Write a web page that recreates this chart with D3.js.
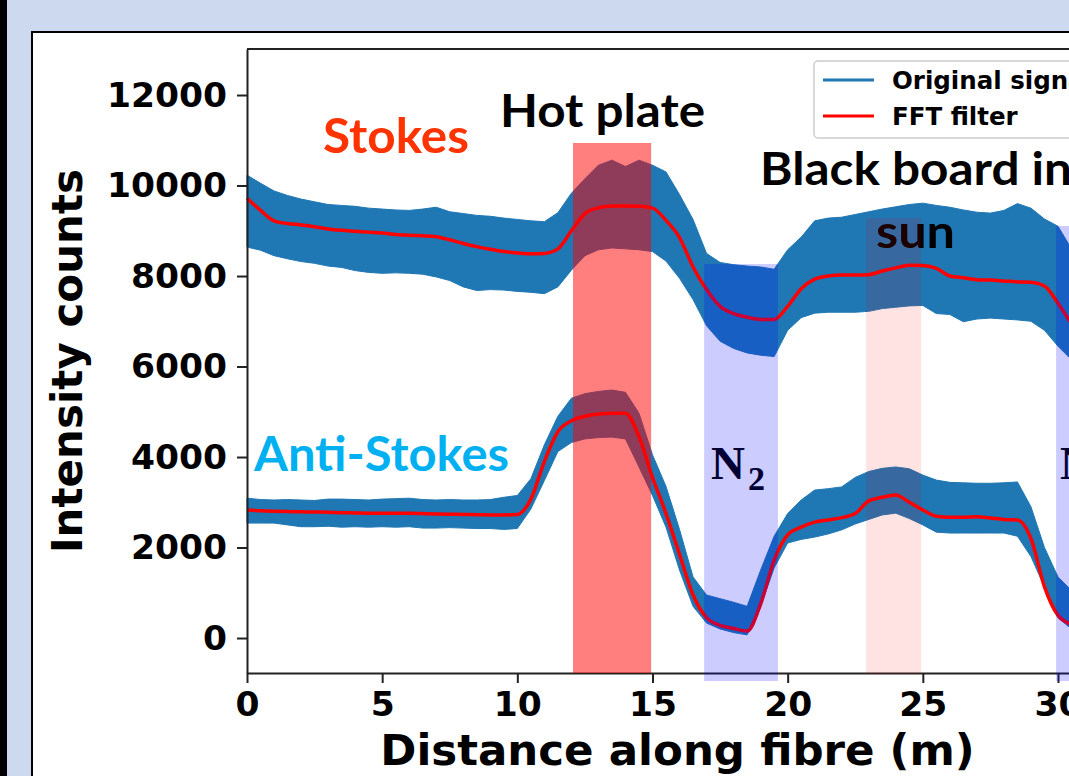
<!DOCTYPE html>
<html>
<head>
<meta charset="utf-8">
<script src="https://cdn.jsdelivr.net/npm/d3@7"></script>
<style>
  html, body { margin: 0; padding: 0; background: #ccd9ee; }
  svg { display: block; }
</style>
</head>
<body>
<div class="artboard"></div>
<script>
// distance along fibre (m), read every 0.5 m
var distance = [0,0.5,1,1.5,2,2.5,3,3.5,4,4.5,5,5.5,6,6.5,7,7.5,8,8.5,9,9.5,10,10.5,11,11.5,12,12.5,13,13.5,14,14.5,15,15.5,16,16.5,17,17.5,18,18.5,19,19.5,20,20.5,21,21.5,22,22.5,23,23.5,24,24.5,25,25.5,26,26.5,27,27.5,28,28.5,29,29.5,30,30.5,31];

// stokes: upper / lower edge of the raw signal band, and the FFT filtered curve
var stokesHigh = [
  10230,10050,9880,9780,9700,9640,9580,9560,9540,9500,
  9480,9460,9450,9480,9520,9420,9380,9340,9320,9280,
  9250,9220,9200,9400,9830,10150,10450,10560,10420,10560,
  10450,10300,9800,9250,8500,8300,8250,8220,8200,8150,
  8580,8860,9220,9280,9300,9360,9420,9480,9530,9580,
  9610,9560,9520,9460,9410,9390,9450,9600,9500,9260,
  9100,8600,8200];
var stokesLow = [
  8640,8570,8450,8380,8320,8280,8220,8190,8120,8080,
  8060,8070,8060,8040,7980,7900,7760,7680,7700,7690,
  7660,7640,7610,7760,8130,8450,8580,8620,8600,8580,
  8540,8330,7950,7480,6900,6560,6400,6300,6250,6220,
  6800,7080,7180,7200,7200,7200,7220,7280,7310,7340,
  7350,7170,7150,6990,7050,7070,7050,7030,7000,6800,
  6450,6150,5900];
var stokesFft = [
  9720,9450,9220,9160,9130,9090,9040,9010,8990,8970,
  8950,8920,8900,8890,8870,8800,8720,8650,8590,8540,
  8510,8490,8500,8600,9000,9380,9510,9550,9550,9540,
  9500,9230,8850,8200,7700,7330,7170,7090,7040,7040,
  7330,7720,7930,8000,8020,8020,8030,8110,8180,8240,
  8230,8170,8000,7960,7920,7910,7890,7870,7860,7780,
  7400,6950,6600];

// anti-stokes
var antiHigh = [
  3090,3060,3050,3060,3050,3040,3070,3070,3060,3050,
  3070,3080,3090,3060,3050,3060,3050,3050,3060,3110,
  3150,3520,4270,4900,5300,5400,5450,5480,5430,4970,
  4050,3350,2400,1350,950,870,790,700,1500,2250,
  2750,3050,3270,3300,3340,3550,3680,3750,3780,3740,
  3600,3490,3440,3430,3420,3420,3430,3450,2900,2000,
  1350,1050,900];
var antiLow = [
  2540,2540,2540,2500,2460,2460,2470,2450,2460,2450,
  2460,2450,2460,2430,2430,2440,2430,2420,2420,2400,
  2420,2850,3480,4120,4320,4400,4430,4440,4400,3780,
  3150,2450,1500,700,330,200,120,70,700,1550,
  2100,2180,2230,2300,2390,2520,2620,2720,2760,2640,
  2500,2340,2320,2320,2320,2320,2320,2250,1800,1130,
  450,200,100];
var antiFft = [
  2830,2810,2800,2795,2790,2785,2780,2770,2765,2760,
  2760,2755,2760,2750,2740,2735,2730,2725,2720,2720,
  2730,3070,3900,4560,4800,4900,4950,4970,4970,4450,
  3550,2750,1850,950,450,280,210,155,750,1720,
  2280,2450,2560,2610,2660,2750,3030,3110,3160,3000,
  2830,2690,2670,2670,2680,2650,2620,2610,2200,1130,
  500,300,200];

var xTicks = [0, 5, 10, 15, 20, 25, 30];
var yTicks = [0, 2000, 4000, 6000, 8000, 10000, 12000];

// highlighted zones on the slide (metres, counts)
var zoneNames = ['hot', 'n2a', 'sun', 'n2b'];
var zoneStart = [12.06, 16.91, 22.9, 29.93];
var zoneEnd = [14.95, 19.64, 24.94, 33];
var zoneTop = [10940, 8265, 9282, 9105];
var zoneBottom = [-773, -950, -790, -950];

var W = 1069, H = 776;
var plot = { left: 247, top: 49, right: 1108, bottom: 673 };

var svg = d3.select('.artboard').append('svg')
  .attr('width', W)
  .attr('height', H);

// slide background + panel
svg.append('rect').attr('width', W).attr('height', H).attr('fill', '#ccd9ee');
svg.append('rect').attr('x', 0).attr('y', 0).attr('width', 7).attr('height', H).attr('fill', '#000');
svg.append('rect')
  .attr('x', 32).attr('y', 32).attr('width', W).attr('height', H)
  .attr('fill', '#fff').attr('stroke', '#000').attr('stroke-width', 2);

var x = d3.scaleLinear().domain([0, 31.85]).range([plot.left, plot.right]);
var y = d3.scaleLinear().domain([-773, 13017]).range([plot.bottom, plot.top]);

var rows = function(hi, lo, fft) {
  return distance.map(function(d, i) { return { d: d, hi: hi[i], lo: lo[i], f: fft[i] }; });
};
var series = [
  rows(stokesHigh, stokesLow, stokesFft),
  rows(antiHigh, antiLow, antiFft)
];

var band = d3.area()
  .x(function(r) { return x(r.d); })
  .y0(function(r) { return y(r.lo); })
  .y1(function(r) { return y(r.hi); });

var line = d3.line()
  .curve(d3.curveMonotoneX)
  .x(function(r) { return x(r.d); })
  .y(function(r) { return y(r.f); });

series.forEach(function(s) {
  svg.append('path').datum(s)
    .attr('d', band)
    .attr('fill', '#1f77b4')
    .attr('stroke', '#1f77b4')
    .attr('stroke-width', 1);
});
series.forEach(function(s) {
  svg.append('path').datum(s)
    .attr('d', line)
    .attr('fill', 'none')
    .attr('stroke', '#ff0000')
    .attr('stroke-width', 3.5);
});

// axes
var tickFont = 'DejaVu Sans, sans-serif';
var gx = svg.append('g')
  .attr('transform', 'translate(0,' + plot.bottom + ')')
  .call(d3.axisBottom(x).tickValues(xTicks).tickSizeInner(10).tickSizeOuter(0).tickPadding(9));
var gy = svg.append('g')
  .attr('transform', 'translate(' + plot.left + ',0)')
  .call(d3.axisLeft(y).tickValues(yTicks).tickFormat(d3.format('d')).tickSizeInner(10).tickSizeOuter(0).tickPadding(10));

[gx, gy].forEach(function(g) {
  g.select('.domain').attr('stroke', '#222').attr('stroke-width', 2);
  g.selectAll('.tick line').attr('stroke', '#222').attr('stroke-width', 2);
  g.selectAll('.tick text')
    .attr('fill', '#000')
    .style('font-family', tickFont)
    .style('font-weight', 'bold')
    .style('font-size', '34.5px');
});
svg.append('line')
  .attr('x1', plot.left).attr('x2', plot.right)
  .attr('y1', plot.top).attr('y2', plot.top)
  .attr('stroke', '#222').attr('stroke-width', 2);

svg.append('text')
  .attr('x', (plot.left + plot.right) / 2)
  .attr('y', 765)
  .attr('text-anchor', 'middle')
  .style('font-family', tickFont).style('font-weight', 'bold').style('font-size', '43.5px')
  .text('Distance along fibre (m)');

svg.append('text')
  .attr('transform', 'translate(82,' + ((plot.top + plot.bottom) / 2) + ') rotate(-90)')
  .attr('text-anchor', 'middle')
  .style('font-family', tickFont).style('font-weight', 'bold').style('font-size', '42px')
  .text('Intensity counts');

// legend
var lg = svg.append('g').attr('transform', 'translate(814,61)');
lg.append('rect')
  .attr('width', 320).attr('height', 77).attr('rx', 4)
  .attr('fill', '#fff').attr('fill-opacity', 0.8)
  .attr('stroke', '#cccccc').attr('stroke-width', 1.5);
var legendItems = [
  { label: 'Original signal', color: '#1f77b4' },
  { label: 'FFT filter', color: '#ff0000' }
];
legendItems.forEach(function(it, i) {
  var ly = 19 + i * 36;
  lg.append('line')
    .attr('x1', 9).attr('x2', 60).attr('y1', ly).attr('y2', ly)
    .attr('stroke', it.color).attr('stroke-width', 3);
  lg.append('text')
    .attr('x', 78).attr('y', ly + 9)
    .style('font-family', tickFont).style('font-weight', 'bold').style('font-size', '24.5px')
    .text(it.label);
});

// slide annotations
var slideFont = 'Lato, "Open Sans", sans-serif';
var note = function(txt, px, py, size, color, len, anchor) {
  var t = svg.append('text')
    .attr('x', px).attr('y', py)
    .attr('text-anchor', anchor || 'start')
    .attr('fill', color)
    .style('font-family', slideFont).style('font-weight', 'bold').style('font-size', size + 'px')
    .text(txt);
  if (len) t.attr('textLength', len).attr('lengthAdjust', 'spacingAndGlyphs');
  return t;
};
note('Stokes', 323, 153, 48, '#ff3300', 146);
note('Hot plate', 500, 127, 45, '#000', 205);
note('Anti-Stokes', 254, 471, 47, '#00b0f0', 255);
note('Black board in', 760, 185, 45, '#000', 312);
note('sun', 876, 248, 46, '#000', 79);

var n2 = function(px) {
  var t = svg.append('text')
    .attr('x', px).attr('y', 479)
    .attr('fill', '#000')
    .style('font-family', '"Liberation Serif", "DejaVu Serif", serif')
    .style('font-weight', 'bold').style('font-size', '47px');
  t.append('tspan').text('N');
  t.append('tspan').attr('dx', 3).attr('dy', 11).style('font-size', '34px').text('2');
};
n2(711);
n2(1060);

// coloured zones are laid over everything, like the slide shapes
var zoneFill = { hot: '#ff0000', n2a: '#0000ff', sun: '#ff0000', n2b: '#0000ff' };
var zoneAlpha = { hot: 0.5, n2a: 0.2, sun: 0.11, n2b: 0.2 };
zoneNames.forEach(function(name, i) {
  svg.append('rect')
    .attr('x', x(zoneStart[i]))
    .attr('y', y(zoneTop[i]))
    .attr('width', x(zoneEnd[i]) - x(zoneStart[i]))
    .attr('height', y(zoneBottom[i]) - y(zoneTop[i]))
    .attr('fill', zoneFill[name])
    .attr('fill-opacity', zoneAlpha[name]);
});
</script>
</body>
</html>
